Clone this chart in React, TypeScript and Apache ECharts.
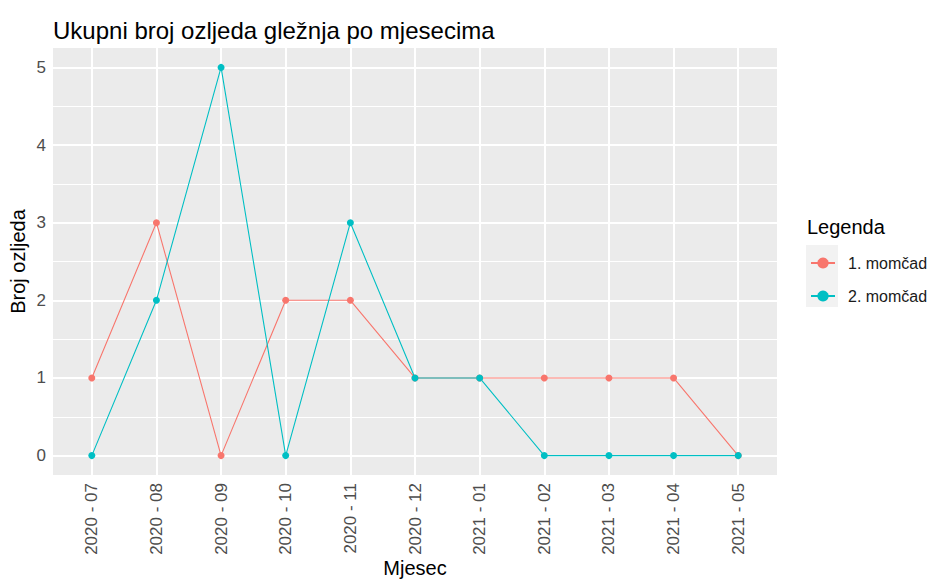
import React, { useEffect, useRef } from "react";
import * as echarts from "echarts";

const months = ["2020 - 07", "2020 - 08", "2020 - 09", "2020 - 10", "2020 - 11", "2020 - 12", "2021 - 01", "2021 - 02", "2021 - 03", "2021 - 04", "2021 - 05"];
const team1 = [1, 3, 0, 2, 2, 1, 1, 1, 1, 1, 0];
const team2 = [0, 2, 5, 0, 3, 1, 1, 0, 0, 0, 0];
const seriesNames = ["1. momčad", "2. momčad"];
const colors = ["#F8766D", "#00BFC4"];
const yTicks = [0, 1, 2, 3, 4, 5];
const yMinor = [0.5, 1.5, 2.5, 3.5, 4.5];

const FONT = "Liberation Sans, Arial, sans-serif";

export default function App() {
  const ref = useRef<HTMLDivElement>(null);
  useEffect(() => {
    document.body.style.margin = "0";
    if (!ref.current) return;
    const chart = echarts.init(ref.current, undefined, { renderer: "svg" });
    const idx = months.map((_, i) => i);
    const gridLines = [
      ...yMinor.map((v) => ({ yAxis: v, lineStyle: { color: "#FFFFFF", width: 1, type: "solid" } })),
      ...yTicks.map((v) => ({ yAxis: v, lineStyle: { color: "#FFFFFF", width: 2, type: "solid" } })),
      ...idx.map((v) => ({ xAxis: v, lineStyle: { color: "#FFFFFF", width: 2, type: "solid" } })),
    ];
    chart.setOption({
      animation: false,
      textStyle: { fontFamily: FONT },
      title: {
        text: "Ukupni broj ozljeda gležnja po mjesecima",
        left: 48,
        top: 13,
        textStyle: { fontSize: 24, fontWeight: "normal", color: "#000000", fontFamily: FONT },
      },
      grid: {
        left: 53,
        right: 158,
        top: 48,
        bottom: 106,
        show: true,
        backgroundColor: "#EBEBEB",
        borderWidth: 0,
        containLabel: false,
        outerBoundsMode: "none",
      },
      xAxis: {
        type: "value",
        min: -0.6,
        max: 10.6,
        name: "Mjesec",
        nameLocation: "middle",
        nameGap: 83,
        nameMoveOverlap: false,
        nameTextStyle: { fontSize: 20, color: "#000000", fontFamily: FONT, lineHeight: 20 },
        axisLine: { show: false },
        splitLine: { show: false },
        axisTick: { show: true, length: 4, customValues: idx, lineStyle: { color: "#333333", width: 1 } },
        axisLabel: {
          customValues: idx,
          rotate: 90,
          margin: 8,
          fontSize: 17,
          color: "#4D4D4D",
          fontFamily: FONT,
          formatter: (v: number) => months[Math.round(v)] ?? "",
        },
      },
      yAxis: {
        type: "value",
        min: -0.25,
        max: 5.25,
        name: "Broj ozljeda",
        nameLocation: "middle",
        nameGap: 25,
        nameMoveOverlap: false,
        nameTextStyle: { fontSize: 20, color: "#000000", fontFamily: FONT },
        axisLine: { show: false },
        splitLine: { show: false },
        axisTick: { show: true, length: 4, customValues: yTicks, lineStyle: { color: "#333333", width: 1 } },
        axisLabel: {
          customValues: yTicks,
          margin: 7,
          fontSize: 17,
          color: "#4D4D4D",
          fontFamily: FONT,
        },
      },
      legend: {
        data: seriesNames,
        orient: "vertical",
        left: 810,
        top: 255,
        padding: 0,
        itemWidth: 24,
        itemHeight: 14,
        itemGap: 17,
        textStyle: { fontSize: 16, color: "#1A1A1A", fontFamily: FONT, padding: [0, 0, 0, 8] },
      },
      graphic: [
        {
          type: "rect",
          left: 806,
          top: 245,
          shape: { width: 32, height: 62 },
          style: { fill: "#F2F2F2" },
          z: -1,
        },
        {
          type: "text",
          left: 807,
          top: 217,
          style: { text: "Legenda", fontSize: 20, fill: "#000000", fontFamily: FONT },
        },
      ],
      series: [
        {
          type: "line",
          name: "__grid",
          data: [],
          z: 1,
          silent: true,
          markLine: {
            silent: true,
            z: 1,
            symbol: "none",
            label: { show: false },
            animation: false,
            data: gridLines,
          },
        },
        ...[team1, team2].map((vals, s) => ({
          type: "line",
          name: seriesNames[s],
          data: vals.map((v, i) => [i, v]),
          z: 3,
          symbol: "circle",
          symbolSize: 7,
          showSymbol: true,
          itemStyle: { color: colors[s] },
          lineStyle: { color: colors[s], width: 1.1 },
        })),
      ],
    });
    return () => chart.dispose();
  }, []);
  return <div ref={ref} style={{ width: 935, height: 581 }} />;
}
